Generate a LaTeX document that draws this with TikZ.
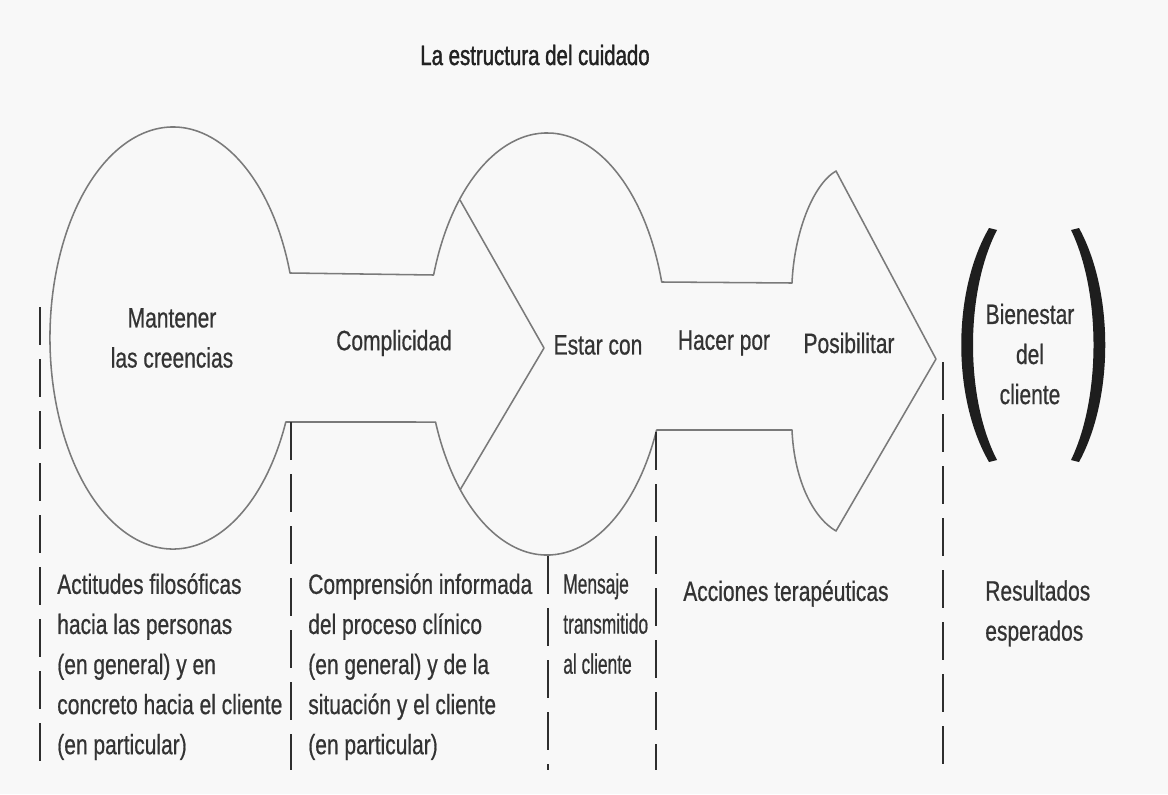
\documentclass[tikz,border=0pt]{standalone}
\usepackage{fontspec}
\setmainfont{Liberation Sans}[FakeStretch=0.75, FakeBold=0.6]
\newfontfamily\narrowfont{Liberation Sans}[FakeStretch=0.62, FakeBold=0.6]
\newfontfamily\titlefont{Liberation Sans}[FakeStretch=0.73, FakeBold=1.4]
\definecolor{paper}{HTML}{F8F8F8}
\definecolor{shape-border}{HTML}{7A7A7A}
\definecolor{guide-line}{HTML}{2E2E2E}
\definecolor{label-text}{HTML}{333333}
\definecolor{title-text}{HTML}{222222}
\definecolor{paren-fill}{HTML}{1E1E1E}
\tikzset{
  care-label/.style={
    font=\fontsize{19.9pt}{28.5pt}\selectfont, text=label-text,
    inner sep=0pt, align=center
  },
  care-column/.style={care-label, align=left, anchor=north west},
  care-shape/.style={draw=shape-border, line width=1.1pt, line join=round},
  care-guide/.style={draw=guide-line, line width=2.1pt, dash pattern=on 0.95cm off 0.35cm},
  care-paren/.style={fill=paren-fill}
}

\begin{document}
\begin{tikzpicture}[x=0.025cm, y=-0.025cm]
  \fill[paper] (0,0) rectangle (1168,794);
  \useasboundingbox (0,0) rectangle (1168,794);

  \node[care-label, text=title-text, font=\fontsize{19.9pt}{28.5pt}\titlefont] (title)
    at (535,55) {La estructura del cuidado};

  % outline: belief ellipse, knowing neck, being-with circle, doing/enabling arrow
  \draw[care-shape] (290,273) -- (433.6,275)
    arc[start angle=-160.91, end angle=-17.09, x radius=120, y radius=211]
    -- (792,283) .. controls (794,235) and (812,185) .. (836,171)
    -- (936,359) -- (836,531)
    .. controls (812,517) and (794,478) .. (792,430)
    -- (656.6,430)
    arc[start angle=24.05, end angle=158.3, x radius=120, y radius=211]
    -- (285.8,422)
    arc[start angle=23.46, end angle=342.06, x radius=123, y radius=211]
    -- cycle;
  \draw[care-shape] (460,200) -- (544,348) -- (460,490);

  % dashed column guides
  \draw[care-guide] (40,307) -- (40,770);
  \draw[care-guide] (291,422) -- (291,770);
  \draw[care-guide] (548,556) -- (548,770);
  \draw[care-guide] (656,432) -- (656,770);
  \draw[care-guide] (943,362) -- (943,770);

  % brackets round the outcome
  \fill[care-paren] (989,228) .. controls (952,292) and (952,398) .. (989,462)
    -- (997,460) .. controls (965,398) and (965,292) .. (997,230) -- cycle;
  \fill[care-paren] (1079,228) .. controls (1114,292) and (1114,398) .. (1079,462)
    -- (1071,460) .. controls (1101,398) and (1101,292) .. (1071,230) -- cycle;

  \node[care-label] (beliefs)     at (172,338)  {Mantener\\las creencias};
  \node[care-label] (knowing)     at (394,343)  {Complicidad};
  \node[care-label] (being-with)  at (598,345)  {Estar con};
  \node[care-label] (doing-for)   at (724,343)  {Hacer por};
  \node[care-label] (enabling)    at (849,343)  {Posibilitar};
  \node[care-label] (wellbeing)   at (1030,354) {Bienestar\\del\\cliente};

  \node[care-column] (attitudes) at (57,573)
    {Actitudes filosóficas\\hacia las personas\\(en general) y en\\concreto hacia el cliente\\(en particular)};
  \node[care-column] (understanding) at (308,573)
    {Comprensión informada\\del proceso clínico\\(en general) y de la\\situación y el cliente\\(en particular)};
  \node[care-column, font=\fontsize{19.9pt}{28.5pt}\narrowfont] (message) at (563,573)
    {Mensaje\\transmitido\\al cliente};
  \node[care-column] (actions) at (683,580) {Acciones terapéuticas};
  \node[care-column] (outcomes) at (985,580) {Resultados\\esperados};
\end{tikzpicture}
\end{document}
